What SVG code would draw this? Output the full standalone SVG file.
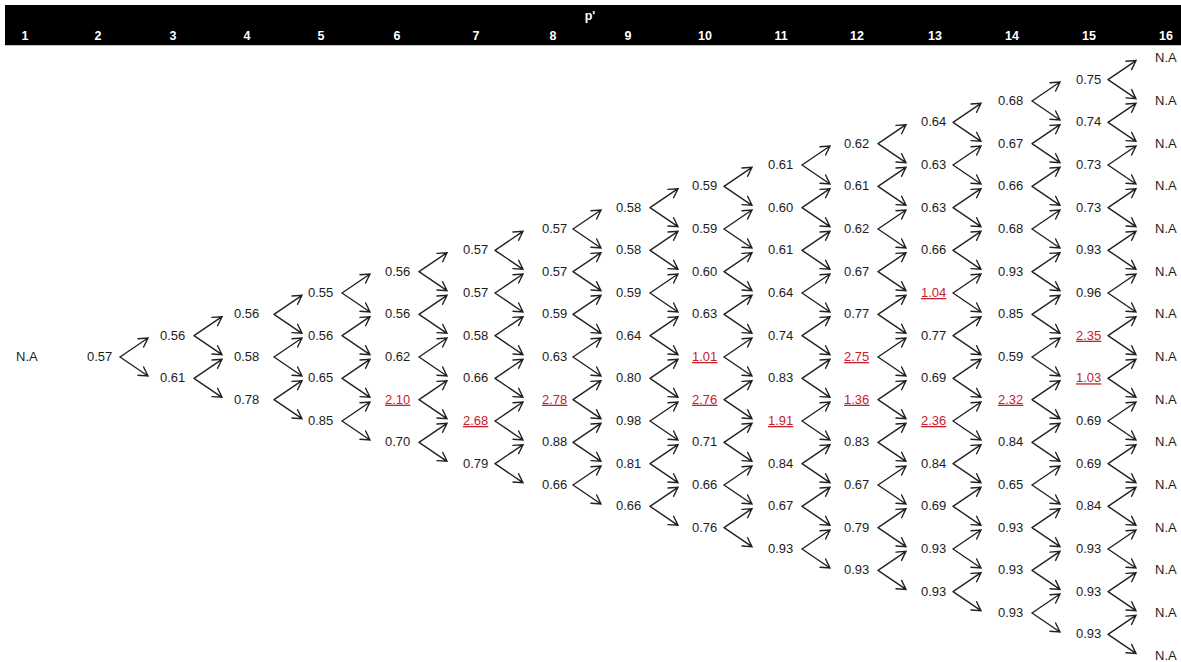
<svg xmlns="http://www.w3.org/2000/svg" width="1181" height="662" viewBox="0 0 1181 662">
<style>
text{font-family:"Liberation Sans",Arial,sans-serif;font-size:13px;fill:#1c1c1c}
.h{fill:#fff;font-weight:bold;text-anchor:middle;font-size:12.5px}
.r{fill:#c8202c;text-decoration:underline}
.f{fill:none;stroke:#222;stroke-width:1.4;stroke-linecap:round;stroke-linejoin:miter}
</style>
<defs>
<path id="f" class="f" d="M0,0 L28,-19 M18,-18.3 L28,-19 L23.6,-10 M0,0 L28,19 M18,18.3 L28,19 L23.6,10"/>
</defs>
<rect x="0" y="0" width="1181" height="662" fill="#fff"/>
<g id="header">
<rect x="5" y="5" width="1176" height="40" fill="#000"/>
<line x1="5" y1="45.5" x2="1181" y2="45.5" stroke="#c8c8c8" stroke-width="1"/>
<text class="h" x="590" y="20">p'</text>
<text class="h" x="25" y="40">1</text>
<text class="h" x="98" y="40">2</text>
<text class="h" x="173" y="40">3</text>
<text class="h" x="247" y="40">4</text>
<text class="h" x="321" y="40">5</text>
<text class="h" x="397" y="40">6</text>
<text class="h" x="476" y="40">7</text>
<text class="h" x="553" y="40">8</text>
<text class="h" x="628" y="40">9</text>
<text class="h" x="705" y="40">10</text>
<text class="h" x="781" y="40">11</text>
<text class="h" x="857" y="40">12</text>
<text class="h" x="935" y="40">13</text>
<text class="h" x="1012" y="40">14</text>
<text class="h" x="1089" y="40">15</text>
<text class="h" x="1166" y="40">16</text>
</g>
<g id="connectors">
<use href="#f" x="120" y="357"/>
<use href="#f" x="194" y="335.7"/><use href="#f" x="194" y="378.3"/>
<use href="#f" x="274" y="314.3"/><use href="#f" x="274" y="357"/><use href="#f" x="274" y="399.7"/>
<use href="#f" x="342" y="293"/><use href="#f" x="342" y="335.7"/><use href="#f" x="342" y="378.3"/><use href="#f" x="342" y="421"/>
<use href="#f" x="419" y="271.7"/><use href="#f" x="419" y="314.3"/><use href="#f" x="419" y="357"/><use href="#f" x="419" y="399.7"/><use href="#f" x="419" y="442.3"/>
<use href="#f" x="495" y="250.3"/><use href="#f" x="495" y="293"/><use href="#f" x="495" y="335.7"/><use href="#f" x="495" y="378.3"/><use href="#f" x="495" y="421"/><use href="#f" x="495" y="463.7"/>
<use href="#f" x="573" y="229"/><use href="#f" x="573" y="271.7"/><use href="#f" x="573" y="314.3"/><use href="#f" x="573" y="357"/><use href="#f" x="573" y="399.7"/><use href="#f" x="573" y="442.3"/><use href="#f" x="573" y="485"/>
<use href="#f" x="650" y="207.7"/><use href="#f" x="650" y="250.3"/><use href="#f" x="650" y="293"/><use href="#f" x="650" y="335.7"/><use href="#f" x="650" y="378.3"/><use href="#f" x="650" y="421"/><use href="#f" x="650" y="463.7"/><use href="#f" x="650" y="506.3"/>
<use href="#f" x="724" y="186.3"/><use href="#f" x="724" y="229"/><use href="#f" x="724" y="271.7"/><use href="#f" x="724" y="314.3"/><use href="#f" x="724" y="357"/><use href="#f" x="724" y="399.7"/><use href="#f" x="724" y="442.3"/><use href="#f" x="724" y="485"/><use href="#f" x="724" y="527.7"/>
<use href="#f" x="802" y="165"/><use href="#f" x="802" y="207.7"/><use href="#f" x="802" y="250.3"/><use href="#f" x="802" y="293"/><use href="#f" x="802" y="335.7"/><use href="#f" x="802" y="378.3"/><use href="#f" x="802" y="421"/><use href="#f" x="802" y="463.7"/><use href="#f" x="802" y="506.3"/><use href="#f" x="802" y="549"/>
<use href="#f" x="878" y="143.7"/><use href="#f" x="878" y="186.3"/><use href="#f" x="878" y="229"/><use href="#f" x="878" y="271.7"/><use href="#f" x="878" y="314.3"/><use href="#f" x="878" y="357"/><use href="#f" x="878" y="399.7"/><use href="#f" x="878" y="442.3"/><use href="#f" x="878" y="485"/><use href="#f" x="878" y="527.7"/><use href="#f" x="878" y="570.4"/>
<use href="#f" x="953" y="122.3"/><use href="#f" x="953" y="165"/><use href="#f" x="953" y="207.7"/><use href="#f" x="953" y="250.3"/><use href="#f" x="953" y="293"/><use href="#f" x="953" y="335.7"/><use href="#f" x="953" y="378.3"/><use href="#f" x="953" y="421"/><use href="#f" x="953" y="463.7"/><use href="#f" x="953" y="506.3"/><use href="#f" x="953" y="549"/><use href="#f" x="953" y="591.7"/>
<use href="#f" x="1032" y="101"/><use href="#f" x="1032" y="143.7"/><use href="#f" x="1032" y="186.3"/><use href="#f" x="1032" y="229"/><use href="#f" x="1032" y="271.7"/><use href="#f" x="1032" y="314.3"/><use href="#f" x="1032" y="357"/><use href="#f" x="1032" y="399.7"/><use href="#f" x="1032" y="442.3"/><use href="#f" x="1032" y="485"/><use href="#f" x="1032" y="527.7"/><use href="#f" x="1032" y="570.4"/><use href="#f" x="1032" y="613"/>
<use href="#f" x="1108" y="79.6"/><use href="#f" x="1108" y="122.3"/><use href="#f" x="1108" y="165"/><use href="#f" x="1108" y="207.7"/><use href="#f" x="1108" y="250.3"/><use href="#f" x="1108" y="293"/><use href="#f" x="1108" y="335.7"/><use href="#f" x="1108" y="378.3"/><use href="#f" x="1108" y="421"/><use href="#f" x="1108" y="463.7"/><use href="#f" x="1108" y="506.3"/><use href="#f" x="1108" y="549"/><use href="#f" x="1108" y="591.7"/><use href="#f" x="1108" y="634.4"/>
</g>
<g id="col1"><g id="n1-1"><text x="16" y="361">N.A</text></g></g>
<g id="col2"><g id="n2-1"><text x="87" y="361">0.57</text></g></g>
<g id="col3">
<g id="n3-1"><text x="160" y="339.7">0.56</text></g>
<g id="n3-2"><text x="160" y="382.3">0.61</text></g>
</g>
<g id="col4">
<g id="n4-1"><text x="234" y="318.3">0.56</text></g>
<g id="n4-2"><text x="234" y="361">0.58</text></g>
<g id="n4-3"><text x="234" y="403.7">0.78</text></g>
</g>
<g id="col5">
<g id="n5-1"><text x="308" y="297">0.55</text></g>
<g id="n5-2"><text x="308" y="339.7">0.56</text></g>
<g id="n5-3"><text x="308" y="382.3">0.65</text></g>
<g id="n5-4"><text x="308" y="425">0.85</text></g>
</g>
<g id="col6">
<g id="n6-1"><text x="385" y="275.7">0.56</text></g>
<g id="n6-2"><text x="385" y="318.3">0.56</text></g>
<g id="n6-3"><text x="385" y="361">0.62</text></g>
<g id="n6-4"><text class="r" x="385" y="403.7">2.10</text></g>
<g id="n6-5"><text x="385" y="446.3">0.70</text></g>
</g>
<g id="col7">
<g id="n7-1"><text x="463" y="254.3">0.57</text></g>
<g id="n7-2"><text x="463" y="297">0.57</text></g>
<g id="n7-3"><text x="463" y="339.7">0.58</text></g>
<g id="n7-4"><text x="463" y="382.3">0.66</text></g>
<g id="n7-5"><text class="r" x="463" y="425">2.68</text></g>
<g id="n7-6"><text x="463" y="467.7">0.79</text></g>
</g>
<g id="col8">
<g id="n8-1"><text x="542" y="233">0.57</text></g>
<g id="n8-2"><text x="542" y="275.7">0.57</text></g>
<g id="n8-3"><text x="542" y="318.3">0.59</text></g>
<g id="n8-4"><text x="542" y="361">0.63</text></g>
<g id="n8-5"><text class="r" x="542" y="403.7">2.78</text></g>
<g id="n8-6"><text x="542" y="446.3">0.88</text></g>
<g id="n8-7"><text x="542" y="489">0.66</text></g>
</g>
<g id="col9">
<g id="n9-1"><text x="616" y="211.7">0.58</text></g>
<g id="n9-2"><text x="616" y="254.3">0.58</text></g>
<g id="n9-3"><text x="616" y="297">0.59</text></g>
<g id="n9-4"><text x="616" y="339.7">0.64</text></g>
<g id="n9-5"><text x="616" y="382.3">0.80</text></g>
<g id="n9-6"><text x="616" y="425">0.98</text></g>
<g id="n9-7"><text x="616" y="467.7">0.81</text></g>
<g id="n9-8"><text x="616" y="510.3">0.66</text></g>
</g>
<g id="col10">
<g id="n10-1"><text x="692" y="190.3">0.59</text></g>
<g id="n10-2"><text x="692" y="233">0.59</text></g>
<g id="n10-3"><text x="692" y="275.7">0.60</text></g>
<g id="n10-4"><text x="692" y="318.3">0.63</text></g>
<g id="n10-5"><text class="r" x="692" y="361">1.01</text></g>
<g id="n10-6"><text class="r" x="692" y="403.7">2.76</text></g>
<g id="n10-7"><text x="692" y="446.3">0.71</text></g>
<g id="n10-8"><text x="692" y="489">0.66</text></g>
<g id="n10-9"><text x="692" y="531.7">0.76</text></g>
</g>
<g id="col11">
<g id="n11-1"><text x="768" y="169">0.61</text></g>
<g id="n11-2"><text x="768" y="211.7">0.60</text></g>
<g id="n11-3"><text x="768" y="254.3">0.61</text></g>
<g id="n11-4"><text x="768" y="297">0.64</text></g>
<g id="n11-5"><text x="768" y="339.7">0.74</text></g>
<g id="n11-6"><text x="768" y="382.3">0.83</text></g>
<g id="n11-7"><text class="r" x="768" y="425">1.91</text></g>
<g id="n11-8"><text x="768" y="467.7">0.84</text></g>
<g id="n11-9"><text x="768" y="510.3">0.67</text></g>
<g id="n11-10"><text x="768" y="553">0.93</text></g>
</g>
<g id="col12">
<g id="n12-1"><text x="844" y="147.7">0.62</text></g>
<g id="n12-2"><text x="844" y="190.3">0.61</text></g>
<g id="n12-3"><text x="844" y="233">0.62</text></g>
<g id="n12-4"><text x="844" y="275.7">0.67</text></g>
<g id="n12-5"><text x="844" y="318.3">0.77</text></g>
<g id="n12-6"><text class="r" x="844" y="361">2.75</text></g>
<g id="n12-7"><text class="r" x="844" y="403.7">1.36</text></g>
<g id="n12-8"><text x="844" y="446.3">0.83</text></g>
<g id="n12-9"><text x="844" y="489">0.67</text></g>
<g id="n12-10"><text x="844" y="531.7">0.79</text></g>
<g id="n12-11"><text x="844" y="574.4">0.93</text></g>
</g>
<g id="col13">
<g id="n13-1"><text x="921" y="126.3">0.64</text></g>
<g id="n13-2"><text x="921" y="169">0.63</text></g>
<g id="n13-3"><text x="921" y="211.7">0.63</text></g>
<g id="n13-4"><text x="921" y="254.3">0.66</text></g>
<g id="n13-5"><text class="r" x="921" y="297">1.04</text></g>
<g id="n13-6"><text x="921" y="339.7">0.77</text></g>
<g id="n13-7"><text x="921" y="382.3">0.69</text></g>
<g id="n13-8"><text class="r" x="921" y="425">2.36</text></g>
<g id="n13-9"><text x="921" y="467.7">0.84</text></g>
<g id="n13-10"><text x="921" y="510.3">0.69</text></g>
<g id="n13-11"><text x="921" y="553">0.93</text></g>
<g id="n13-12"><text x="921" y="595.7">0.93</text></g>
</g>
<g id="col14">
<g id="n14-1"><text x="998" y="105">0.68</text></g>
<g id="n14-2"><text x="998" y="147.7">0.67</text></g>
<g id="n14-3"><text x="998" y="190.3">0.66</text></g>
<g id="n14-4"><text x="998" y="233">0.68</text></g>
<g id="n14-5"><text x="998" y="275.7">0.93</text></g>
<g id="n14-6"><text x="998" y="318.3">0.85</text></g>
<g id="n14-7"><text x="998" y="361">0.59</text></g>
<g id="n14-8"><text class="r" x="998" y="403.7">2.32</text></g>
<g id="n14-9"><text x="998" y="446.3">0.84</text></g>
<g id="n14-10"><text x="998" y="489">0.65</text></g>
<g id="n14-11"><text x="998" y="531.7">0.93</text></g>
<g id="n14-12"><text x="998" y="574.4">0.93</text></g>
<g id="n14-13"><text x="998" y="617">0.93</text></g>
</g>
<g id="col15">
<g id="n15-1"><text x="1076" y="83.6">0.75</text></g>
<g id="n15-2"><text x="1076" y="126.3">0.74</text></g>
<g id="n15-3"><text x="1076" y="169">0.73</text></g>
<g id="n15-4"><text x="1076" y="211.7">0.73</text></g>
<g id="n15-5"><text x="1076" y="254.3">0.93</text></g>
<g id="n15-6"><text x="1076" y="297">0.96</text></g>
<g id="n15-7"><text class="r" x="1076" y="339.7">2.35</text></g>
<g id="n15-8"><text class="r" x="1076" y="382.3">1.03</text></g>
<g id="n15-9"><text x="1076" y="425">0.69</text></g>
<g id="n15-10"><text x="1076" y="467.7">0.69</text></g>
<g id="n15-11"><text x="1076" y="510.3">0.84</text></g>
<g id="n15-12"><text x="1076" y="553">0.93</text></g>
<g id="n15-13"><text x="1076" y="595.7">0.93</text></g>
<g id="n15-14"><text x="1076" y="638.4">0.93</text></g>
</g>
<g id="col16">
<g id="n16-1"><text x="1155" y="62.3">N.A</text></g>
<g id="n16-2"><text x="1155" y="105">N.A</text></g>
<g id="n16-3"><text x="1155" y="147.7">N.A</text></g>
<g id="n16-4"><text x="1155" y="190.3">N.A</text></g>
<g id="n16-5"><text x="1155" y="233">N.A</text></g>
<g id="n16-6"><text x="1155" y="275.7">N.A</text></g>
<g id="n16-7"><text x="1155" y="318.3">N.A</text></g>
<g id="n16-8"><text x="1155" y="361">N.A</text></g>
<g id="n16-9"><text x="1155" y="403.7">N.A</text></g>
<g id="n16-10"><text x="1155" y="446.3">N.A</text></g>
<g id="n16-11"><text x="1155" y="489">N.A</text></g>
<g id="n16-12"><text x="1155" y="531.7">N.A</text></g>
<g id="n16-13"><text x="1155" y="574.4">N.A</text></g>
<g id="n16-14"><text x="1155" y="617">N.A</text></g>
<g id="n16-15"><text x="1155" y="659.7">N.A</text></g>
</g>
</svg>
